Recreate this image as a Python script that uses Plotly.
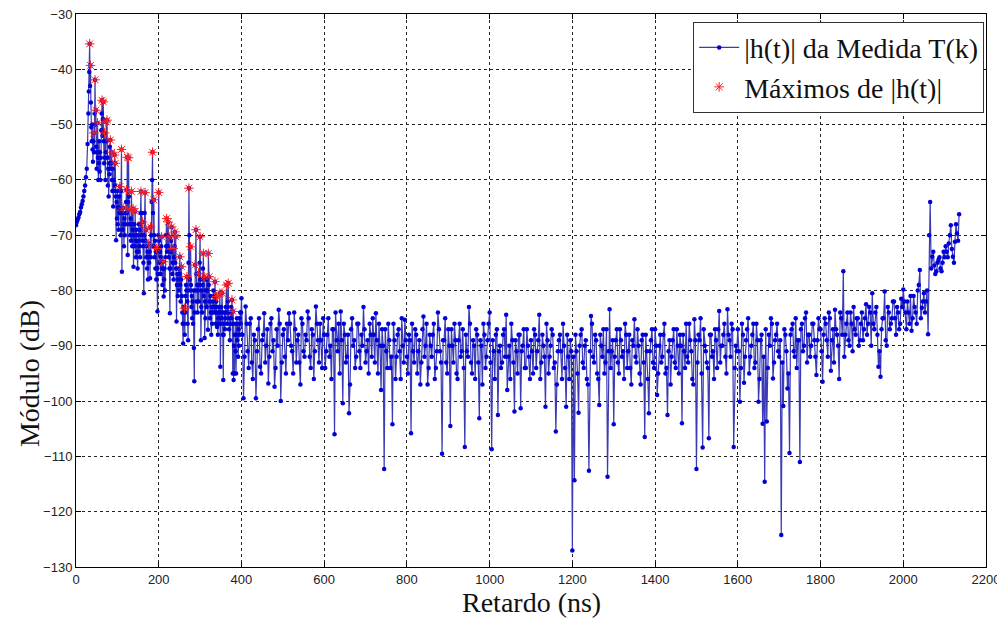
import plotly.graph_objects as go

# ---------------- data ----------------
# sample times (ns): 0..30 step 2, 31..400 step 1, then 402.5..2135 step 2.5
t_a = list(range(0, 31, 2))
t_b = list(range(31, 401))
t_c = list(range(405, 2136, 5))               # samples on multiples of 5 ns
t_m = [402.5 + 5 * k for k in range(347)]      # samples in between

h_a = [-68.2, -67.6, -67.2, -66.8, -66.2, -65.8, -65.0, -64.4, -63.8, -63.0,
       -62.0, -61.0, -59.5, -58.0, -53.5, -48.0]

h_b = [
    -44.0, -40.5, -35.4, -43.0, -39.3, -46.0, -50.5, -53.0, -50.0, -54.5,   # 31-40
    -56.7, -53.0, -51.5, -55.0, -48.0, -41.9, -50.0, -47.4, -54.0, -58.0,   # 41-50
    -55.0, -49.7, -56.0, -60.0, -57.0, -53.0, -58.5, -55.0, -60.0, -56.0,   # 51-60
    -51.0, -48.0, -45.6, -52.0, -49.0, -45.9, -53.0, -57.0, -51.5, -56.0,   # 61-70
    -60.0, -55.0, -49.5, -53.0, -49.2, -56.0, -61.0, -58.0, -63.0, -57.0,   # 71-80
    -59.0, -54.0, -52.8, -58.0, -57.0, -55.0, -60.0, -62.0, -58.0, -64.8,   # 81-90
    -60.0, -62.0, -55.5, -61.0, -57.0, -63.0, -70.9, -64.0, -67.0, -62.0,   # 91-100
    -68.0, -65.0, -69.0, -63.0, -66.0, -61.2, -65.0, -70.0, -62.0, -54.5,   # 101-110
    -76.6, -66.0, -69.0, -65.1, -68.0, -72.0, -67.0, -70.0, -66.0, -68.0,   # 111-120
    -64.0, -61.8, -66.0, -55.9, -73.6, -64.0, -56.0, -63.0, -68.0, -65.4,   # 121-130
    -70.0, -67.0, -71.0, -62.1, -68.0, -72.0, -69.0, -65.2, -75.7, -70.0,   # 131-140
    -68.0, -72.0, -65.7, -71.0, -74.0, -69.0, -73.0, -70.0, -76.0, -71.0,   # 141-150
    -73.0, -68.0, -72.0, -69.0, -74.0, -66.0, -62.1, -70.0, -66.0, -71.0,   # 151-160
    -67.6, -72.0, -75.0, -80.5, -70.0, -66.0, -62.3, -71.0, -69.0, -74.0,   # 161-170
    -72.0, -76.0, -73.0, -78.0, -74.0, -71.5, -75.0, -73.0, -77.8, -68.5,   # 171-180
    -74.0, -70.0, -64.0, -60.0, -55.0, -66.0, -72.0, -63.6, -70.0, -74.0,   # 181-190
    -71.0, -76.0, -73.0, -78.0, -72.4, -76.0, -83.8, -77.0, -70.0, -62.3,   # 191-200
    -71.0, -75.0, -73.0, -77.0, -74.0, -72.0, -70.3, -76.0, -79.0, -76.0,   # 201-210
    -74.8, -81.1, -78.0, -76.0, -80.0, -74.0, -70.0, -72.0, -67.0, -73.0,   # 211-220
    -70.0, -72.0, -67.6, -74.0, -70.3, -76.0, -84.1, -76.0, -73.0, -71.0,   # 221-230
    -68.5, -73.0, -77.0, -75.0, -72.4, -78.0, -74.0, -72.0, -69.4, -75.0,   # 231-240
    -70.3, -76.0, -85.6, -79.0, -77.0, -81.0, -78.0, -76.0, -80.0, -77.0,   # 241-250
    -73.9, -79.0, -82.0, -78.0, -75.7, -81.0, -84.0, -86.0, -89.6, -83.0,   # 251-260
    -86.0, -83.2, -88.0, -84.0, -81.0, -79.0, -80.0, -77.5, -82.0, -86.0,   # 261-270
    -89.0, -75.0, -61.5, -70.0, -78.0, -80.0, -72.1, -79.0, -83.0, -81.0,   # 271-280
    -85.0, -82.0, -86.0, -80.0, -90.4, -96.4, -84.0, -75.4, -80.0, -69.0,   # 281-290
    -77.0, -82.0, -79.0, -84.0, -80.0, -76.9, -82.0, -79.0, -75.0, -70.3,   # 291-300
    -78.0, -89.0, -83.0, -80.0, -84.0, -79.0, -76.0, -73.3, -81.0, -77.5,   # 301-310
    -88.6, -82.0, -85.0, -80.0, -78.0, -83.0, -80.0, -78.0, -87.1, -73.3,   # 311-320
    -79.0, -77.5, -82.0, -85.0, -81.0, -84.0, -88.0, -83.0, -86.0, -82.0,   # 321-330
    -84.0, -80.0, -83.0, -81.0, -84.0, -78.4, -83.0, -86.0, -82.0, -81.1,   # 331-340
    -86.6, -84.0, -88.0, -85.0, -83.0, -86.0, -84.0, -80.5, -93.8, -86.0,   # 341-350
    -83.0, -85.0, -80.5, -84.0, -88.0, -96.2, -88.0, -86.0, -84.0, -87.0,   # 351-360
    -85.0, -83.0, -84.0, -79.0, -83.0, -86.0, -82.0, -78.7, -84.0, -87.0,   # 361-370
    -85.0, -89.0, -86.0, -84.0, -83.0, -85.0, -81.7, -86.0, -95.0, -83.8,   # 371-380
    -96.2, -90.0, -95.0, -88.0, -86.0, -91.0, -95.0, -88.0, -85.0, -89.0,   # 381-390
    -86.0, -92.0, -87.0, -90.0, -85.0, -88.0, -84.0, -86.0, -84.0, -81.4,   # 391-400
]

h_c = [
    # 405-500
    -99.5, -82.9, -91, -86, -93, -88, -99.5, -87, -93.8, -89,
    -84.1, -90, -96.8, -86, -91, -97.4, -87, -83.5, -100, -88,
    # 505-600
    -92, -86, -84.1, -90, -95, -87, -89, -93, -85, -91,
    -88, -83.8, -92, -87, -96, -82.9, -89, -86, -94, -88,
    # 605-700
    -91, -85, -90, -87, -106, -89, -86, -83.8, -100.4, -88,
    -92, -102.2, -87, -90, -94, -86, -91, -88, -83, -93,
    # 705-800
    -89, -86, -92, -88, -84.1, -95, -90, -87, -112.3, -91,
    -86, -94, -104.2, -89, -92, -87, -96, -90, -85.3, -92,
    # 805-900
    -88, -105.8, -91, -87, -95, -89, -93, -84.7, -90, -97,
    -88, -92, -86, -94, -84, -91, -109.5, -89, -93, -87,
    # 905-1000
    -104.5, -90, -86, -95, -89, -92, -87, -108.3, -91, -83,
    -93, -89, -96, -88, -103.1, -90, -86, -94, -89, -84,
    # 1005-1100
    -108.7, -91, -88, -102.5, -90, -93, -87, -84.4, -92, -96,
    -89, -101.9, -91, -88, -101.3, -90, -94, -87, -92, -89,
    # 1105-1200
    -95, -88, -91, -84.4, -93, -90, -101, -89, -92, -87,
    -94, -105.5, -91, -88, -96, -90, -101, -92, -89, -127,
    # 1205-1300
    -114.3, -91, -102.1, -88, -93, -90, -96, -112.6, -84.6, -92,
    -88, -95, -100.7, -90, -87, -93, -113.7, -83.4, -91, -104.2,
    # 1305-1400
    -89, -93, -87, -92, -96, -88, -91, -94, -89, -85.2,
    -93, -90, -97, -88, -106.5, -91, -102.2, -89, -93, -87,
    # 1405-1500
    -98.9, -90, -93, -88, -95, -102.5, -89, -92, -87, -94,
    -90, -88, -104, -91, -86, -93, -89, -96, -85.2, -112.3,
    # 1505-1600
    -88, -85, -108.4, -90, -93, -106.7, -88, -91, -87, -94,
    -83.7, -90, -88, -92, -83.4, -89, -86, -108.3, -90, -87,
    # 1605-1700
    -100.1, -86, -96.7, -89, -85, -92, -88, -94, -86, -100.1,
    -89, -104.1, -114.6, -103.7, -88, -85, -95.9, -89, -86, -92,
    # 1705-1800
    -124.2, -100.9, -88, -97.7, -109.4, -87, -91, -85, -89, -111,
    -86, -90, -84, -88, -92, -86, -89, -95.3, -85, -87,
    # 1805-1900
    -96.5, -85, -89, -84, -94.5, -87, -83.5, -88, -96, -85,
    -76.5, -88, -84, -90, -86, -83, -88, -85, -89, -84,
    # 1905-2000
    -87, -82.5, -86, -84, -80.5, -87, -83, -93.8, -95.6, -85,
    -80.2, -90, -84, -86, -82, -85, -83, -87, -81.5, -79.8,
    # 2005-2100
    -84, -82, -86, -87.3, -81, -84, -80, -76.3, -83.1, -80.5,
    -82, -87.9, -64, -73.9, -75.5, -76.5, -74.5, -76, -75, -74,
    # 2105-2135
    -73, -71.5, -68.2, -73.9, -71.2, -69.7, -66.2,
]

h_m = [
    # 402.5-497.5
    -88, -92, -86, -94, -85, -96, -89, -91, -85, -95,
    -88, -93, -87, -92, -85, -89, -94, -90, -86, -93,
    # 502.5-597.5
    -87, -95, -89, -86, -91, -84, -93, -88, -97, -86,
    -92, -89, -85, -94, -88, -91, -86, -93, -89, -85,
    # 602.5-697.5
    -94, -88, -92, -96, -87, -84, -91, -95, -89, -86,
    -93, -88, -97, -85, -89, -92, -86, -94, -90, -87,
    # 702.5-797.5
    -91, -95, -88, -85, -93, -89, -86, -98, -90, -87,
    -94, -89, -92, -86, -96, -88, -91, -85, -93, -89,
    # 802.5-897.5
    -95, -89, -86, -93, -88, -91, -97, -87, -92, -86,
    -94, -90, -88, -96, -91, -87, -93, -89, -85, -95,
    # 902.5-997.5
    -90, -87, -93, -89, -96, -86, -91, -94, -88, -92,
    -86, -95, -90, -87, -93, -89, -97, -88, -92, -86,
    # 1002.5-1097.5
    -93, -89, -96, -87, -91, -94, -88, -92, -98, -90,
    -86, -93, -89, -95, -88, -91, -87, -94, -90, -96,
    # 1102.5-1197.5
    -91, -87, -94, -89, -96, -88, -92, -86, -95, -90,
    -88, -93, -97, -89, -91, -86, -94, -88, -96, -91,
    # 1202.5-1297.5
    -92, -88, -95, -90, -87, -94, -89, -97, -91, -86,
    -93, -89, -96, -88, -92, -95, -87, -91, -94, -89,
    # 1302.5-1397.5
    -92, -87, -95, -89, -91, -86, -94, -88, -97, -90,
    -92, -87, -95, -89, -93, -88, -96, -91, -87, -94,
    # 1402.5-1497.5
    -90, -95, -88, -92, -86, -94, -91, -97, -89, -93,
    -87, -95, -90, -88, -94, -92, -86, -91, -97, -89,
    # 1502.5-1597.5
    -93, -89, -95, -87, -91, -94, -88, -92, -96, -89,
    -87, -93, -90, -86, -95, -88, -92, -87, -94, -91,
    # 1602.5-1697.5
    -91, -94, -88, -92, -87, -95, -90, -86, -93, -89,
    -96, -88, -92, -87, -94, -90, -86, -93, -88, -91,
    # 1702.5-1797.5
    -89, -93, -87, -91, -95, -88, -86, -92, -94, -89,
    -87, -91, -85, -93, -88, -90, -86, -92, -89, -87,
    # 1802.5-1897.5
    -91, -88, -86, -92, -85, -89, -93, -87, -90, -84,
    -88, -92, -86, -89, -84, -91, -87, -85, -90, -86,
    # 1902.5-1997.5
    -89, -85, -88, -83, -90, -86, -84, -88, -91, -87,
    -85, -89, -83, -87, -85, -82, -88, -84, -86, -83,
    # 2002.5-2097.5
    -82, -87, -84, -81, -85, -83, -86, -79, -85, -82,
    -84, -80, -70, -76, -73, -77, -75, -74, -76.5, -73,
    # 2102.5-2132.5
    -72, -74, -70, -72.5, -75, -68, -71,
]

# detected maxima (red stars)
max_t = [33, 35, 43, 46, 48, 52, 63, 66, 69, 73, 75, 83, 86, 93, 95, 106, 110,
         114, 122, 124, 127, 130, 134, 138, 143, 157, 161, 167, 169, 176, 180,
         185, 188, 195, 200, 207, 211, 219, 223, 225, 231, 235, 239, 241, 251,
         255, 262, 268, 273, 277, 288, 290, 296, 300, 308, 310, 320, 322, 336,
         340, 348, 353, 364, 368, 377, 380]
max_h = [-35.4, -39.3, -51.5, -41.9, -47.4, -49.7, -45.6, -45.9, -51.5, -49.5,
         -49.2, -52.8, -55.0, -55.5, -57.0, -61.2, -54.5, -65.1, -61.8, -55.9,
         -56.0, -65.4, -62.1, -65.2, -65.7, -62.1, -67.6, -62.3, -69.0, -71.5,
         -68.5, -55.0, -63.6, -72.4, -62.3, -70.3, -74.8, -67.0, -67.6, -70.3,
         -68.5, -72.4, -69.4, -70.3, -73.9, -75.7, -83.2, -77.5, -61.5, -72.1,
         -75.4, -69.0, -76.9, -70.3, -73.3, -77.5, -73.3, -77.5, -78.4, -81.1,
         -80.5, -80.5, -79.0, -78.7, -81.7, -83.8]

x_ticks = list(range(0, 2201, 200))
y_ticks = list(range(-130, -29, 10))

assert len(t_a) == len(h_a) and len(t_b) == len(h_b)
assert len(t_c) == len(h_c) and len(t_m) == len(h_m)
assert len(max_t) == len(max_h)

tail = sorted(zip(t_c + t_m, h_c + h_m))
t = t_a + t_b + [p[0] for p in tail]
h = h_a + h_b + [p[1] for p in tail]

# ---------------- figure ----------------
SERIF = "Liberation Serif"
fig = go.Figure()
fig.add_trace(go.Scatter(
    x=t, y=h, mode="lines+markers",
    name="|h(t)| da Medida T(k)",
    line=dict(color="#3a3ab4", width=1.2),
    marker=dict(color="#0000d8", size=4.5, symbol="circle"),
))
fig.add_trace(go.Scatter(
    x=max_t, y=max_h, mode="markers",
    name="Máximos de |h(t)|",
    marker=dict(symbol="asterisk-open", size=8,
                line=dict(color="#ff2020", width=1), color="#ff2020"),
))

axis_common = dict(
    showline=True, linecolor="black", linewidth=1, mirror="ticks",
    ticks="inside", ticklen=5, tickcolor="black",
    showgrid=True, gridcolor="#222222", gridwidth=1, griddash="3px,3px",
    zeroline=False, automargin=False, ticklabeloverflow="allow",
    tickfont=dict(family="Liberation Sans", size=13, color="#222"),
)

fig.update_xaxes(range=[0, 2200], tickvals=x_ticks, **axis_common)
fig.update_yaxes(range=[-130, -30], tickvals=y_ticks, **axis_common)

# the page body adds an 8 px margin, so the figure is 8 px smaller each way
fig.update_layout(
    width=997, height=611,
    margin=dict(l=68, r=19, t=6, b=52),
    paper_bgcolor="white", plot_bgcolor="white",
    showlegend=True,
    legend=dict(x=0.998, y=0.986, xanchor="right", yanchor="top",
                bgcolor="white", bordercolor="#333", borderwidth=1,
                font=dict(family=SERIF, size=28, color="#111"),
                itemwidth=40, tracegroupgap=0),
    annotations=[
        dict(text="Retardo (ns)", xref="paper", yref="paper", x=0.5, y=-0.065,
             xanchor="center", yanchor="middle", showarrow=False,
             font=dict(family=SERIF, size=28, color="#111")),
        dict(text="Módulo (dB)", xref="paper", yref="paper", x=-0.051, y=0.35,
             xanchor="center", yanchor="middle", showarrow=False, textangle=-90,
             font=dict(family=SERIF, size=28, color="#111")),
    ],
)

fig.write_html("out.html")
